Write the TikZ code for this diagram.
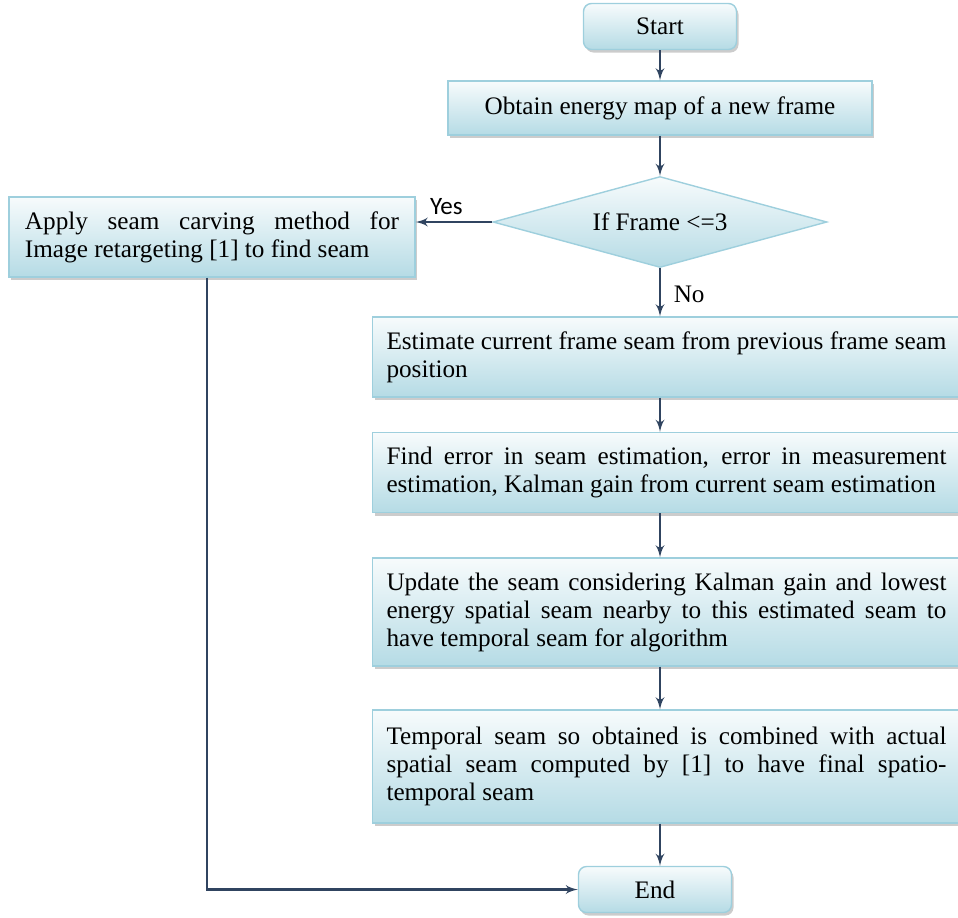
\documentclass[tikz,border=0pt]{standalone}
\usepackage{fontspec}
\setmainfont{Liberation Serif}
\newfontfamily\labelfont{Carlito}
\usetikzlibrary{shapes.geometric, positioning, arrows, shadows}

\hyphenpenalty=10000
\tolerance=9999
\hbadness=10000

\definecolor{boxtop}{RGB}{247,251,252}
\definecolor{boxbot}{RGB}{181,219,229}
\definecolor{boxline}{RGB}{158,207,221}
\definecolor{flowline}{RGB}{48,68,96}

\tikzset{
    block/.style={rectangle, draw=boxline, line width=0.7pt,
        top color=boxtop, bottom color=boxbot,
        drop shadow={shadow xshift=1pt, shadow yshift=-1.5pt, fill=black!40},
        font=\fontsize{12.6}{14}\selectfont},
    terminal/.style={block, rounded corners=4pt, minimum width=76.5pt, minimum height=23pt},
    process/.style={block, align=justify, inner xsep=7pt},
    decision/.style={diamond, aspect=3.67, draw=boxline, line width=0.7pt,
        top color=boxtop, bottom color=boxbot, inner sep=0pt,
        minimum width=167pt, minimum height=45.5pt,
        font=\fontsize{12.6}{14}\selectfont},
    flow/.style={->, >=latex', draw=flowline, line width=1.1pt}
}

\begin{document}
\begin{tikzpicture}[node distance=2cm, on grid]
    \useasboundingbox (0,0) rectangle (479pt,-458.5pt);

    \node[terminal] (start) at (330pt,-13.25pt) {Start};
    \node[block, minimum width=212pt, minimum height=27pt] (obtain) [below=40.75pt of start] {Obtain energy map of a new frame};
    \node[decision] (decide) [below=57pt of obtain] {If Frame <=3};
    \node[process, text width=187pt, minimum height=40pt, inner xsep=8pt] (apply) [below left=7.5pt and 224pt of decide]
        {Apply seam carving method for Image retargeting [1] to find seam};
    \node[process, text width=280pt, minimum height=40pt] (estimate) [below right=67.5pt and 3.25pt of decide]
        {Estimate current frame seam from previous frame seam position};
    \node[process, text width=280pt, minimum height=40pt] (finderr) [below=57.75pt of estimate]
        {Find error in seam estimation, error in measurement estimation, Kalman gain from current seam estimation};
    \node[process, text width=280pt, minimum height=54pt] (update) [below=69.75pt of finderr]
        {Update the seam considering Kalman gain and lowest energy spatial seam nearby to this estimated seam to have temporal seam for algorithm};
    \node[process, text width=280pt, minimum height=56.5pt] (combine) [below=77.25pt of update]
        {Temporal seam so obtained is combined with actual spatial seam computed by [1] to have final spatio-temporal seam};
    \node[terminal] (finish) [below left=61.5pt and 5.75pt of combine] {End};

    \draw[flow] (start) -- (obtain);
    \draw[flow] (obtain) -- (decide);
    \draw[flow] (decide.west) -- node[above, pos=0.6, font=\labelfont\fontsize{12.5}{14}\selectfont] {Yes} (decide.west -| apply.east);
    \draw[flow] (decide) -- node[right, pos=0.55, xshift=3pt, font=\fontsize{12.6}{14}\selectfont] {No} (decide |- estimate.north);
    \draw[flow] (estimate.south -| decide) -- (finderr.north -| decide);
    \draw[flow] (finderr.south -| decide) -- (update.north -| decide);
    \draw[flow] (update.south -| decide) -- (combine.north -| decide);
    \draw[flow] (combine.south -| decide) -- (finish.north -| decide);
    \draw[flow] ([xshift=-2.5pt]apply.south) |- (finish.west);
\end{tikzpicture}
\end{document}
